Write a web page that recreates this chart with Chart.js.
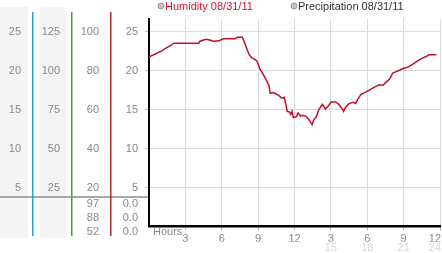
<!DOCTYPE html>
<html>
<head>
<meta charset="utf-8">
<script src="https://cdn.jsdelivr.net/npm/chart.js@4.4.0/dist/chart.umd.min.js"></script>
<style>
  html, body { margin:0; padding:0; background:#fff; }
  #wrap { width:442px; height:253px; }
</style>
</head>
<body>
<div id="wrap"><canvas id="c" width="442" height="253"></canvas></div>
<script>
// humidity trace (hour of day, value on the 0-25 axis)
const hours = [0,0.3,0.7,1.1,1.4,1.8,2.05,4.1,4.2,4.7,5.0,5.3,5.8,6.0,6.2,7.1,7.25,7.7,7.85,8.05,8.25,8.45,8.7,8.9,
  9.15,9.4,9.7,9.9,10.0,10.25,10.65,10.95,11.15,11.3,11.4,11.6,11.7,11.8,11.9,12.15,12.3,12.5,12.7,13.0,13.2,13.45,
  13.6,13.8,14.0,14.3,14.55,14.8,15.0,15.4,15.65,15.9,16.05,16.2,16.5,16.85,17.05,17.2,17.5,17.8,18.2,18.6,19.0,
  19.3,19.55,19.85,20.1,20.4,20.7,20.95,21.4,21.7,22.1,22.5,22.8,23.1,23.7];
const humidity = [21.8,22.0,22.3,22.6,22.9,23.25,23.55,23.55,23.8,24.05,23.95,23.8,23.85,24.05,24.1,24.1,24.3,24.3,23.75,22.9,22.1,21.7,21.5,21.25,
  20.2,19.6,18.75,18.1,17.1,17.2,16.9,16.5,16.6,15.6,14.8,14.7,14.4,14.8,14.0,14.1,14.6,14.2,14.3,14.1,13.7,13.1,
  13.75,14.1,15.0,15.7,15.1,15.5,16.0,16.0,15.7,15.2,14.8,15.3,15.8,15.95,15.8,16.3,17.0,17.2,17.55,17.9,18.2,
  18.15,18.55,18.95,19.7,19.9,20.1,20.3,20.5,20.8,21.2,21.6,21.8,22.05,22.05];
const precipitation = [];

const seriesLabels = ['Humidity 08/31/11', 'Precipitation 08/31/11'];
const seriesColors = ['#c20f2c', '#555555'];

const xTickHours = [3,6,9,12,15,18,21,24];
const xTickLabels = ['3','6','9','12','3','6','9','12'];
const xTickLabels24 = ['','','','','15','18','21','24'];

const col1Ticks = [5,10,15,20,25];
const col2Ticks = [25,50,75,100,125];
const col3Ticks = [20,40,60,80,100];
const mainTicks = [5,10,15,20,25];

const humStats = ['97','88','52'];
const precipStats = ['0.0','0.0','0.0'];

const TOP = 26.7;

const ticksFrom = arr => s => { s.ticks = arr.map(v => ({value:v})); };

const panelPlugin = {
  id:'panel',
  beforeDraw(chart){
    const ctx = chart.ctx;
    const s = chart.scales;
    ctx.save();
    // shaded columns
    ctx.fillStyle = '#f4f4f4';
    ctx.fillRect(0, 7, 28, 231);
    ctx.fillRect(40, 7, 26, 231);
    // separator under the axis labels
    ctx.fillStyle = '#a8a8a8';
    ctx.fillRect(0, 196, chart.chartArea.left - 1, 2);
    // coloured column rules
    const rules = [[s.y1.right, '#2f9fd2'], [s.y2.right, '#3aa63a'], [s.y3.right, '#b02a2a']];
    ctx.lineWidth = 1.5;
    rules.forEach(([x, c]) => {
      ctx.strokeStyle = c;
      ctx.beginPath();
      ctx.moveTo(Math.round(x) - 0.25, 12);
      ctx.lineTo(Math.round(x) - 0.25, 236);
      ctx.stroke();
    });
    // bottom readings
    ctx.font = '11px "Liberation Sans"';
    ctx.fillStyle = '#888';
    ctx.textAlign = 'right';
    ctx.textBaseline = 'middle';
    humStats.forEach((t, i) => ctx.fillText(t, s.y3.right - 12, 204 + i * 14));
    precipStats.forEach((t, i) => ctx.fillText(t, s.y.right - 11, 204 + i * 14));
    ctx.restore();

    // keep the last hour labels inside the canvas
    ['x', 'x2'].forEach(id => {
      const items = s[id].getLabelItems();
      const last = items[items.length - 1];
      if (last) {
        last.options.textAlign = 'right';
        last.options.translation[0] = chart.chartArea.right + 1;
      }
    });
  },
  afterDraw(chart){
    const ctx = chart.ctx;
    const a = chart.chartArea;
    ctx.save();
    ctx.font = '11px "Liberation Sans"';
    ctx.textBaseline = 'middle';
    ctx.fillStyle = '#888';
    ctx.textAlign = 'left';
    ctx.fillText('Hours', a.left + 4, 232);
    // legend
    const lx = [161, 294];
    chart.data.datasets.forEach((d, i) => {
      ctx.beginPath();
      ctx.arc(lx[i], 6, 3, 0, Math.PI * 2);
      ctx.fillStyle = '#c4c4c4';
      ctx.fill();
      ctx.strokeStyle = '#999';
      ctx.lineWidth = 1;
      ctx.stroke();
      ctx.fillStyle = i === 0 ? '#d4112b' : '#333';
      ctx.fillText(d.label, lx[i] + 4, 7);
    });
    ctx.restore();
  }
};

Chart.defaults.font.family = '"Liberation Sans", Arial, sans-serif';
Chart.defaults.font.size = 11;
Chart.defaults.color = '#888';

new Chart(document.getElementById('c'), {
  type:'line',
  data:{
    datasets:[
      { label:seriesLabels[0], data:hours.map((h, i) => ({x:h, y:humidity[i]})),
        borderColor:seriesColors[0], borderWidth:1.5, pointRadius:0, tension:0, yAxisID:'y' },
      { label:seriesLabels[1], data:precipitation,
        borderColor:seriesColors[1], borderWidth:1.2, pointRadius:0, yAxisID:'y' }
    ]
  },
  options:{
    responsive:false,
    animation:false,
    layout:{ padding:{ top:13, right:2, left:0, bottom:0 } },
    plugins:{ legend:{display:false}, tooltip:{enabled:false} },
    scales:{
      x:{
        type:'linear', position:'bottom', weight:0, min:0, max:24,
        afterBuildTicks:ticksFrom(xTickHours),
        ticks:{ callback:(v, i) => xTickLabels[i], padding:2, maxRotation:0, color:'#888' },
        grid:{ color:'#dcdcdc', tickLength:4, tickColor:'#bbb' },
        border:{ color:'#000', width:2.5 },
        afterFit:s => { s.height = 15; s.paddingLeft = 0; s.paddingRight = 0; }
      },
      x2:{
        type:'linear', position:'bottom', weight:1, min:0, max:24,
        afterBuildTicks:ticksFrom(xTickHours),
        ticks:{ callback:(v, i) => xTickLabels24[i], padding:0, maxRotation:0, color:'#d8d8d8' },
        grid:{ display:false, drawTicks:false },
        border:{ display:false },
        afterFit:s => { s.height = 11.3; s.paddingLeft = 0; s.paddingRight = 0; }
      },
      y:{
        position:'left', weight:0, min:0, max:TOP,
        afterBuildTicks:ticksFrom(mainTicks),
        ticks:{ padding:7 },
        grid:{ color:'#dcdcdc', tickLength:4, tickColor:'#bbb' },
        border:{ color:'#000', width:2 },
        afterFit:s => { s.width = 38; }
      },
      y3:{
        position:'left', weight:1, min:0, max:TOP * 4,
        afterBuildTicks:ticksFrom(col3Ticks),
        ticks:{ padding:12 },
        grid:{ display:false, drawTicks:false },
        border:{ display:false },
        afterFit:s => { s.width = 39; }
      },
      y2:{
        position:'left', weight:2, min:0, max:TOP * 5,
        afterBuildTicks:ticksFrom(col2Ticks),
        ticks:{ padding:12 },
        grid:{ display:false, drawTicks:false },
        border:{ display:false },
        afterFit:s => { s.width = 39; }
      },
      y1:{
        position:'left', weight:3, min:0, max:TOP,
        afterBuildTicks:ticksFrom(col1Ticks),
        ticks:{ padding:12 },
        grid:{ display:false, drawTicks:false },
        border:{ display:false },
        afterFit:s => { s.width = 33; }
      }
    }
  },
  plugins:[panelPlugin]
});
</script>
</body>
</html>
